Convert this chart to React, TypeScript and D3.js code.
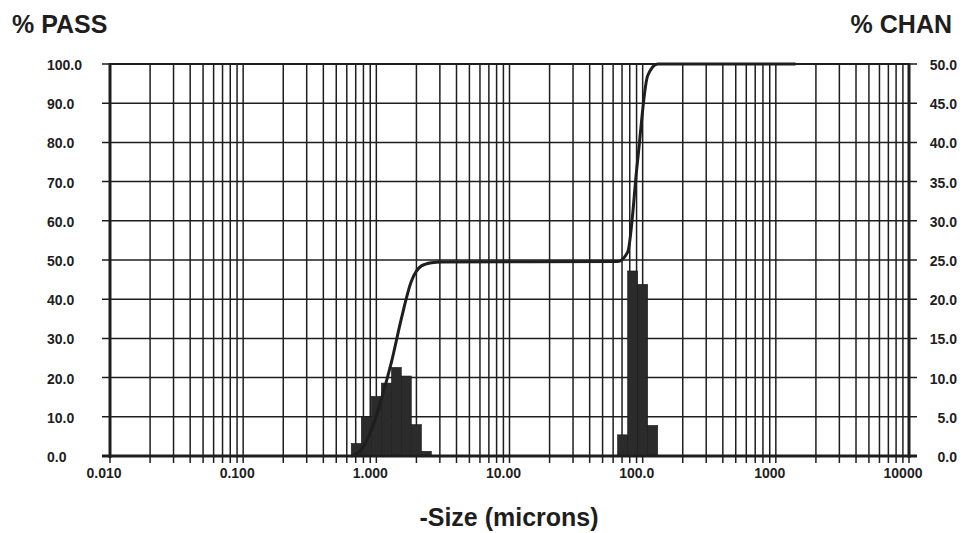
import React from "react";
import * as d3 from "d3";

// Channel (bin) edges in microns and % in channel
const binLower = [0.648, 0.771, 0.917, 1.09, 1.30, 1.54, 1.83, 2.18, 64.8, 77.1, 91.7, 109.0];
const binUpper = [0.771, 0.917, 1.09, 1.30, 1.54, 1.83, 2.18, 2.59, 77.1, 91.7, 109.0, 129.7];
const chanPct = [1.6, 5.0, 7.6, 9.3, 11.3, 10.2, 4.0, 0.6, 2.7, 23.6, 21.9, 3.9];

// Cumulative % passing curve
const passSize = [0.648, 0.771, 0.917, 1.09, 1.30, 1.54, 1.83, 2.18, 2.59, 3.08, 64.8, 77.1, 91.7, 109.0, 129.7, 1408];
const passPct = [0, 1.6, 6.6, 14.5, 24.0, 35.0, 44.5, 48.5, 49.3, 49.5, 49.6, 52.0, 75.5, 97.0, 100, 100];

const xTickValues = [0.01, 0.1, 1, 10, 100, 1000, 10000];
const xTickLabels = ["0.010", "0.100", "1.000", "10.00", "100.0", "1000", "10000"];
const leftTicks = [0, 10, 20, 30, 40, 50, 60, 70, 80, 90, 100];
const rightTicks = [0, 5, 10, 15, 20, 25, 30, 35, 40, 45, 50];

const W = 963;
const H = 533;
const L = 110;
const R = 909;
const T = 64;
const B = 456;

export default function App() {
  const x = d3.scaleLog().domain([0.01, 10000]).range([L, R]);
  const yL = d3.scaleLinear().domain([0, 100]).range([B, T]);
  const yR = d3.scaleLinear().domain([0, 50]).range([B, T]);

  const minor: number[] = [];
  for (let e = -2; e <= 3; e++) {
    for (let m = 1; m <= 9; m++) minor.push(m * Math.pow(10, e));
  }
  minor.push(10000);

  const line = d3
    .line<number>()
    .x((_, i) => x(passSize[i]))
    .y((d) => yL(d))
    .curve(d3.curveMonotoneX);

  const ink = "#1e1e1e";
  const font = "'Liberation Sans', Arial, Helvetica, sans-serif";

  return (
    <svg
      width={W}
      height={H}
      style={{ position: "absolute", left: 0, top: 0, background: "#fff" }}
      fontFamily={font}
    >
      <rect x={0} y={0} width={W} height={H} fill="#fff" />
      {/* horizontal grid */}
      {leftTicks.map((v) => (
        <line key={"h" + v} x1={L - 8} x2={R + 8} y1={yL(v)} y2={yL(v)} stroke={ink} strokeWidth={1.5} />
      ))}
      {/* vertical grid + bottom ticks */}
      {minor.map((v, i) => (
        <line key={"v" + i} x1={x(v)} x2={x(v)} y1={T} y2={B + 7} stroke={ink} strokeWidth={1.5} />
      ))}
      {/* bars */}
      {chanPct.map((v, i) => (
        <rect
          key={"b" + i}
          x={x(binLower[i])}
          width={x(binUpper[i]) - x(binLower[i])}
          y={yR(v)}
          height={B - yR(v)}
          fill="#2b2b2b"
          stroke="#1a1a1a"
          strokeWidth={0.6}
        />
      ))}
      {/* cumulative line */}
      <path d={line(passPct) || ""} fill="none" stroke={ink} strokeWidth={3} strokeLinejoin="round" />
      {/* frame */}
      <line x1={L} x2={L} y1={T - 1} y2={B + 2} stroke={ink} strokeWidth={3} />
      <line x1={R} x2={R} y1={T - 1} y2={B + 2} stroke={ink} strokeWidth={3} />
      <line x1={L - 8} x2={R + 8} y1={B} y2={B} stroke={ink} strokeWidth={3} />
      <line x1={L} x2={R} y1={T} y2={T} stroke={ink} strokeWidth={2} />
      {/* left labels */}
      {leftTicks.map((v) => (
        <text key={"ll" + v} x={47} y={yL(v) + 6} fontSize={14} fontWeight="bold" fill={ink}>
          {v.toFixed(1)}
        </text>
      ))}
      {/* right labels */}
      {rightTicks.map((v) => (
        <text key={"rl" + v} x={957} y={yR(v) + 6} fontSize={14} fontWeight="bold" fill={ink} textAnchor="end">
          {v.toFixed(1)}
        </text>
      ))}
      {/* bottom labels */}
      {xTickValues.map((v, i) => (
        <text key={"xl" + i} x={x(v) - 6} y={478} fontSize={14} fontWeight="bold" fill={ink} textAnchor="middle">
          {xTickLabels[i]}
        </text>
      ))}
      <text x={12} y={33} fontSize={25} fontWeight="bold" fill={ink}>
        % PASS
      </text>
      <text x={952} y={33} fontSize={25} fontWeight="bold" fill={ink} textAnchor="end">
        % CHAN
      </text>
      <text x={509} y={526} fontSize={25} fontWeight="bold" fill={ink} textAnchor="middle">
        -Size (microns)
      </text>
    </svg>
  );
}
